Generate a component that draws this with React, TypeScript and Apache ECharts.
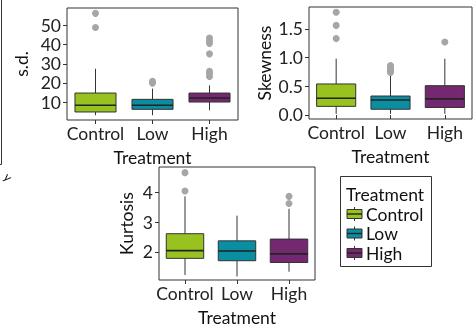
import React, { useEffect, useRef } from "react";
import * as echarts from "echarts";

const categories = ["Control", "Low", "High"];
const colors = ["#98C21F", "#0A8EA2", "#74286F"];

// [min, Q1, median, Q3, max] per category
const sdStats = [
  [3.1, 4.8, 8.3, 14.7, 27.4],
  [3.1, 6.2, 8.3, 11.4, 17.0],
  [5.7, 10.0, 12.1, 14.7, 18.7],
];
const sdOutliers = [
  [56.4, 49.0],
  [20.8, 19.9],
  [43.5, 42.1, 40.7, 35.2, 26.1, 24.8, 23.4],
];
const sdTicks = [10, 20, 30, 40, 50];

const skewStats = [
  [0.02, 0.15, 0.29, 0.54, 0.98],
  [0.02, 0.1, 0.26, 0.33, 0.68],
  [0.02, 0.13, 0.28, 0.51, 0.98],
];
const skewOutliers = [
  [1.79, 1.56, 1.33],
  [0.86, 0.84, 0.82, 0.8, 0.78, 0.76, 0.74],
  [1.27],
];
const skewTicks = [0, 0.5, 1.0, 1.5];

const kurtStats = [
  [1.22, 1.78, 2.04, 2.61, 3.87],
  [1.17, 1.7, 2.03, 2.37, 3.22],
  [1.33, 1.64, 1.93, 2.43, 3.45],
];
const kurtOutliers = [[4.67, 4.05], [], [3.87, 3.63]];
const kurtTicks = [2, 3, 4];

const FONT = "Lato";
const FS = 17.5;

const panels = [
  { name: "s.d.", stats: sdStats, out: sdOutliers, ticks: sdTicks, min: 0.6, max: 59.2, grid: { left: 67, top: 8, width: 171, height: 112 }, gap: 37, fmt: (v: number) => String(v) },
  { name: "Skewness", stats: skewStats, out: skewOutliers, ticks: skewTicks, min: -0.07, max: 1.88, grid: { left: 309, top: 7, width: 163, height: 112 }, gap: 36, fmt: (v: number) => v.toFixed(1) },
  { name: "Kurtosis", stats: kurtStats, out: kurtOutliers, ticks: kurtTicks, min: 1.05, max: 4.86, grid: { left: 159, top: 167, width: 156, height: 114 }, gap: 24, fmt: (v: number) => String(v) },
];

export default function App() {
  const ref = useRef<HTMLDivElement>(null);
  useEffect(() => {
    if (!ref.current) return;
    const chart = echarts.init(ref.current, null, { renderer: "svg" });
    const grid: any[] = [];
    const xAxis: any[] = [];
    const yAxis: any[] = [];
    const series: any[] = [];
    panels.forEach((p, i) => {
      grid.push({ ...p.grid, show: true, borderColor: "#333", borderWidth: 1, backgroundColor: "transparent", containLabel: false });
      xAxis.push({
        type: "category",
        gridIndex: i,
        data: categories,
        boundaryGap: true,
        axisLine: { show: false },
        axisTick: { show: true, alignWithLabel: true, length: 4, lineStyle: { color: "#333" } },
        axisLabel: { color: "#222", fontSize: FS, fontFamily: FONT, margin: 4, interval: 0 },
        name: "Treatment",
        nameLocation: "middle",
        nameGap: 28,
        nameTextStyle: { color: "#111", fontSize: FS, fontFamily: FONT },
        splitLine: { show: false },
      });
      yAxis.push({
        type: "value",
        gridIndex: i,
        min: p.min,
        max: p.max,
        axisLine: { show: false },
        axisTick: { show: true, length: 4, customValues: p.ticks, lineStyle: { color: "#333" } },
        axisLabel: { color: "#222", fontSize: FS, fontFamily: FONT, margin: 6, customValues: p.ticks, formatter: p.fmt },
        splitLine: { show: false },
        name: p.name,
        nameLocation: "middle",
        nameGap: p.gap,
        nameTextStyle: { color: "#111", fontSize: FS, fontFamily: FONT },
      });
      series.push({
        type: "custom",
        xAxisIndex: i,
        yAxisIndex: i,
        data: p.stats.map((s, k) => [k, ...s]),
        encode: { x: 0, y: [1, 2, 3, 4, 5] },
        renderItem: (params: any, api: any) => {
          const idx = api.value(0);
          const pMin = api.coord([idx, api.value(1)]);
          const pQ1 = api.coord([idx, api.value(2)]);
          const pMed = api.coord([idx, api.value(3)]);
          const pQ3 = api.coord([idx, api.value(4)]);
          const pMax = api.coord([idx, api.value(5)]);
          const band = api.size([1, 0])[0];
          const w = band * 0.72;
          const x = pMed[0];
          const stroke = "#333";
          return {
            type: "group",
            children: [
              { type: "line", shape: { x1: x, y1: pMax[1], x2: x, y2: pQ3[1] }, style: { stroke, lineWidth: 1 } },
              { type: "line", shape: { x1: x, y1: pQ1[1], x2: x, y2: pMin[1] }, style: { stroke, lineWidth: 1 } },
              { type: "rect", shape: { x: x - w / 2, y: pQ3[1], width: w, height: pQ1[1] - pQ3[1] }, style: { fill: colors[idx], stroke, lineWidth: 1 } },
              { type: "line", shape: { x1: x - w / 2, y1: pMed[1], x2: x + w / 2, y2: pMed[1] }, style: { stroke: "#222", lineWidth: 1.6 } },
            ],
          };
        },
        silent: true,
      });
      const outData: number[][] = [];
      p.out.forEach((arr, k) => arr.forEach((v) => outData.push([k, v])));
      series.push({
        type: "scatter",
        xAxisIndex: i,
        yAxisIndex: i,
        data: outData,
        symbol: "circle",
        symbolSize: 7,
        itemStyle: { color: "#A6A6A6", opacity: 1 },
        silent: true,
      });
    });

    const legendItems = categories.map((c, k) => {
      const cy = 214 + k * 19.5;
      return {
        type: "group",
        children: [
          { type: "line", shape: { x1: 354.5, y1: cy - 7, x2: 354.5, y2: cy + 7 }, style: { stroke: "#333", lineWidth: 1 } },
          { type: "rect", shape: { x: 347, y: cy - 4.5, width: 15, height: 9 }, style: { fill: colors[k], stroke: "#333", lineWidth: 1 } },
          { type: "line", shape: { x1: 347, y1: cy, x2: 362, y2: cy }, style: { stroke: "#222", lineWidth: 1.4 } },
          { type: "text", x: 366, y: cy, style: { text: c, fontSize: FS, fontFamily: FONT, fill: "#111", textVerticalAlign: "middle", textAlign: "left" } },
        ],
      };
    });

    chart.setOption({
      animation: false,
      grid,
      xAxis,
      yAxis,
      series,
      graphic: [
        { type: "rect", shape: { x: 340.5, y: 176.5, width: 91, height: 90 }, style: { fill: "none", stroke: "#333", lineWidth: 1 } },
        { type: "text", x: 346, y: 194, style: { text: "Treatment", fontSize: FS, fontFamily: FONT, fill: "#111", textVerticalAlign: "middle", textAlign: "left" } },
        ...legendItems,
        { type: "line", shape: { x1: 1.5, y1: 0, x2: 1.5, y2: 164.5 }, style: { stroke: "#333", lineWidth: 1 } },
        { type: "line", shape: { x1: 0, y1: 164.5, x2: 1.5, y2: 164.5 }, style: { stroke: "#333", lineWidth: 1 } },
        { type: "text", x: 8, y: 177, rotation: -Math.PI / 4, style: { text: "y", fontSize: 12, fontFamily: FONT, fill: "#111", textAlign: "center", textVerticalAlign: "middle" } },
      ],
    });
    return () => chart.dispose();
  }, []);
  return <div ref={ref} style={{ position: "fixed", left: 0, top: 0, width: 473, height: 327 }} />;
}
